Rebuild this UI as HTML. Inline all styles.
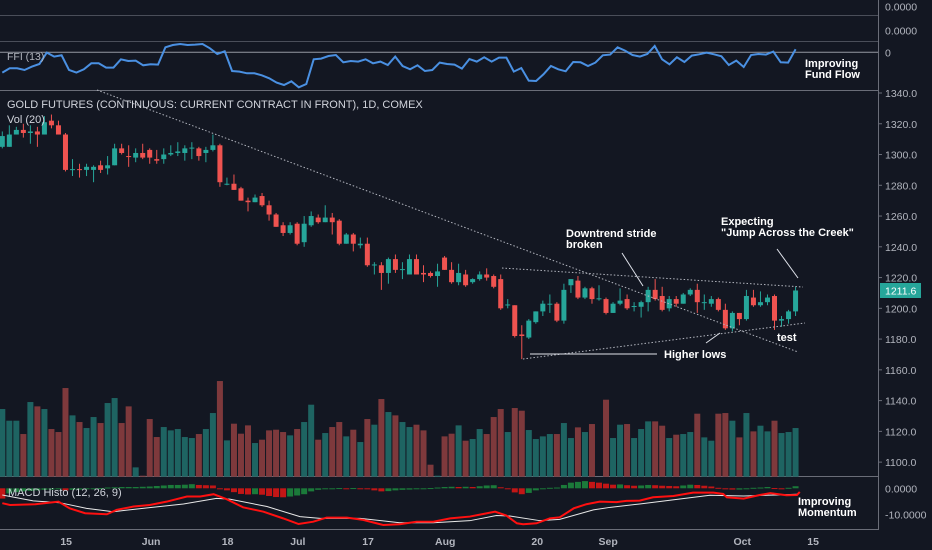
<!DOCTYPE html>
<html><head><meta charset="utf-8"><style>
html,body{margin:0;padding:0;background:#131722;width:932px;height:550px;overflow:hidden}
svg{display:block;font-family:"Liberation Sans",sans-serif}
</style></head><body>
<svg id="c" width="932" height="550" viewBox="0 0 932 550"></svg>
<script>
// ---- data ----
const opens  =[1305,1305,1313,1316,1314,1315,1313,1322,1319,1313,1290,1290.5,1290,1290,1293,1291,1293,1304,1299,1298,1301,1303,1297,1297,1300,1301,1301,1304,1304,1301,1303,1306,1281,1281,1278,1270,1269,1273,1267,1261,1254,1249,1255,1243,1254,1259,1256,1259,1257,1242,1248,1241,1242,1228,1228,1223,1232,1225,1222,1232,1223,1223,1221,1233,1225,1217,1222,1217,1219,1222,1221,1219,1202,1202,1183,1181,1191,1198,1203,1203,1192,1215,1218,1207,1213,1206,1206,1197,1203,1206,1201,1201,1204,1212,1208,1200,1206,1203,1209,1212,1204,1203,1206,1199,1187,1197,1193,1207,1202,1204,1208,1192,1193,1198];
const closes =[1312,1313,1316,1314,1315,1313,1321,1319,1313,1290,1290.5,1290,1292,1292,1290,1293,1304,1301,1298.7,1301,1298,1298,1296,1300,1301,1302,1304,1304.5,1299,1303,1306,1282,1281,1277,1270,1269,1272,1267,1261,1253,1249,1254,1242,1255,1260,1256,1259,1256,1242,1248,1242,1242,1228,1228.5,1223,1232,1225,1225.5,1232,1222,1222,1221,1224,1225,1217,1223,1215,1219,1222,1220,1214,1200,1202.5,1182,1182,1192,1198,1203,1203,1192,1212,1219,1207,1213,1206,1206.5,1197,1203,1205,1200,1201.5,1204,1212,1206,1199,1206,1203,1209,1212,1204,1204,1206,1199,1187,1197,1193,1208,1202,1204,1207,1192,1193,1198,1211.6];
const highs  =[1315,1319,1318,1320,1319,1318,1325,1326,1322,1314,1297,1294,1294,1293,1296,1299,1307,1307,1306,1304,1307,1304,1303,1304,1306,1308,1306,1308,1305,1305,1313,1307,1285,1287,1279,1272,1274,1275,1270,1262,1256,1256,1256,1260,1263,1261,1267,1262,1258,1249,1249,1246,1246,1230,1230,1233,1235,1230,1235,1235,1228,1224,1229,1234,1230,1229,1225,1219.5,1224,1226,1222,1222,1206,1202,1189,1193,1198,1205,1209,1204,1216,1219,1221,1214,1214,1215,1207,1204,1213,1209,1204,1205,1214,1219,1214,1208,1208,1210,1213,1216,1209,1208,1207,1203,1198,1197,1212,1212,1211,1209,1209,1195,1199,1214];
const lows   =[1304,1305,1313,1311,1307,1305,1313,1317,1313,1289,1286,1285,1286,1282,1288,1287,1293,1300,1292,1295,1297,1294,1294,1294,1299,1299,1296,1297,1296,1295,1302,1279,1280,1277,1270,1263,1269,1266,1257,1253,1247,1248,1241,1240,1253,1255,1256,1248,1241,1242,1237,1239,1227,1222,1212,1216,1223,1219,1222,1222,1217,1220,1214,1225,1216,1215,1214,1216,1218,1218,1213,1199,1200,1181,1167,1180,1190,1195,1197,1191,1190,1210,1206,1206,1203,1205,1196,1197,1202,1199,1198,1194,1198,1205,1198,1198,1201,1203,1208,1197,1199,1201,1198,1186,1185,1189,1192,1201,1201,1202,1186,1188,1190,1195];
const volumes=[203,168,168,128,224,211,203,143,134,266,184,164,146,179,161,221,236,161,211,28,3,173,119,149,139,143,119,116,128,143,191,287,109,159,129,154,101,111,139,141,134,124,143,164,216,111,131,149,164,121,141,104,173,156,233,194,184,164,149,156,139,36,3,121,129,154,108,113,143,128,179,203,134,206,198,140,113,121,128,128,161,116,148,134,158,0,231,116,156,158,116,143,166,166,153,116,126,128,134,189,118,108,189,191,168,118,191,136,153,136,168,131,134,146];
const histo  =[-4,-2,-1.5,-1.2,-1,-0.8,-0.6,-0.5,-0.4,-0.8,-0.6,-0.5,-0.3,-0.1,0.1,0.3,0.4,0.5,0.5,0.5,0.6,0.7,0.9,1.1,1.3,1.3,1.4,1.6,1.3,1.2,1.1,-0.4,-0.8,-1.5,-2.2,-2.4,-2.3,-2.5,-3,-3.4,-3.5,-3.2,-2.8,-2.3,-1.2,-0.6,-0.2,0,0.1,0,0.1,0,-0.4,-0.8,-1.2,-1.1,-0.8,-0.6,-0.5,-0.1,0,0.1,0.3,0.5,0.6,0.5,0.6,0.5,0.8,1.1,1.2,0.4,-0.2,-1.6,-2.3,-1.8,-0.8,0,0.2,0.3,1.3,2.2,2.5,2.8,2.5,2.2,1.8,1.4,1.5,1.2,1,1.1,1.3,1.2,1,0.9,0.8,1.1,1.4,1.3,1,0.7,0.2,-0.4,-0.5,-0.5,-0.1,0.2,0.3,0.5,0.1,-0.2,0.2,0.8];
const macdDays=[0,1.1,4.7,8,9.6,11.8,14.9,16.3,18.7,21,23.4,26.3,28.2,30.1,32,34.3,37.2,40,42.2,44.3,46.2,49.1,51.4,54.3,56.6,59,61.4,63.8,66.6,68.5,70.2,71.8,73.3,74.2,76.1,78,79.4,81.4,83.2,85.1,87.5,88.9,90.8,92.7,95.6,98.4,101.3,102.7,103.2,105.6,107.9,109.4,111.7,113.2,113.6];
const macdVals=[-5.8,-6.5,-6.2,-5.2,-7.8,-9.7,-10.1,-8.4,-7.1,-6.5,-5.2,-3.2,-3.2,-2.3,-4.3,-7.4,-9.1,-11.7,-13.9,-13,-11.4,-11.4,-12.3,-14.3,-14,-13,-13,-11.7,-11,-10,-9.1,-10.6,-13.6,-14,-13.6,-11.7,-11.3,-7.8,-6.2,-5.2,-5.4,-4.9,-4.8,-3.5,-3,-1.7,-1.7,-2.2,-3.5,-4,-2.6,-1.9,-2.7,-2.6,-1.4];
const sigDays=[0,4.4,8.2,12,15.8,21,25.8,30.5,32.4,37.7,42.4,45.3,51,56.6,61.4,66.6,70.4,72.3,76.6,79.4,84.2,86.6,90.8,96.1,100.8,105.6,110.3,113.2];
const sigVals=[-2.6,-4.9,-5.6,-7.8,-9.1,-7.5,-6.1,-3.9,-4.2,-7.1,-11,-11.7,-11.7,-13.4,-13.4,-12.6,-10.6,-10.8,-12.6,-12.1,-8.4,-7.4,-6.1,-4.3,-2.7,-3,-2.6,-2.3];
const ffiVals=[-61,-48,-48,-53,-43,-35,-1,-13,-9,-53,-61,-51,-33,-33,-46,-46,-21,-26,-25,-39,-36,-37,15,22,25,22,23,25,12,-5,3,-56,-58,-63,-63,-69,-78,-91,-98,-87,-105,-95,-21,-19,-11,-8,-30,-26,-28,-21,-33,-28,-38,-13,-41,-51,-39,-56,-53,-31,-35,-37,-49,-20,-28,-15,-28,-16,-16,-58,-47,-85,-86,-66,-41,-51,-57,-29,-30,-41,-31,-9,-7,15,5,-8,-13,-5,19,-21,-36,-15,-29,-10,-6,-1,-6,-12,-38,-25,-44,-8,-5,-7,2,-30,-31,9];
const priceTicks=[1340,1320,1300,1280,1260,1240,1220,1200,1180,1160,1140,1120,1100];
const dateLabels=["15","Jun","18","Jul","17","Aug","20","Sep","Oct","15"];
const dateDays=[9.1,21.2,32.1,42.1,52.1,63.1,76.2,86.3,105.4,115.5];

// ---- axes ----
const xDay=d=>2.3+d*7.02;
const yP=p=>93+(1340-p)*1.538;
const yVol=v=>476.7-v/3;
const yMacd=v=>488.3-v*2.57;
const yFfi=v=>52.3-v/3;

const S=document.getElementById('c');const NS='http://www.w3.org/2000/svg';
function mk(t,a,p){const e=document.createElementNS(NS,t);for(const k in a)e.setAttribute(k,a[k]);(p||S).appendChild(e);return e;}
function txt(x,y,s,a){const e=mk('text',Object.assign({x:x,y:y,fill:'#d1d4dc','font-size':11},a||{}));e.textContent=s;return e;}

// separators
[[15,'#4a4e59'],[41,'#4a4e59'],[90,'#6a6d78'],[476,'#6a6d78'],[529,'#6a6d78']].forEach(([y,c])=>{
 const l=mk('line',{x1:0,x2:878,y1:y+0.5,y2:y+0.5,stroke:c,'stroke-width':1});
 });
const zl=mk('line',{x1:0,x2:878,y1:52.3,y2:52.3,stroke:'#9598a1','stroke-width':1});

const ax=mk('line',{x1:878.5,x2:878.5,y1:0,y2:530,stroke:'#6a6d78'});


// volume
const gV=mk('g',{});
volumes.forEach((v,i)=>{if(!v)return;const up=closes[i]>=opens[i];
 const r=mk('rect',{x:xDay(i)-3,y:yVol(v),width:6,height:476.7-yVol(v),fill:up?'#1e6462':'#7e393c'},gV);
 });

// candles
const gC=mk('g',{});
opens.forEach((o,i)=>{const c=closes[i],up=c>=o,col=up?'#26a69a':'#ef5350',x=xDay(i);
 const w=mk('line',{x1:x,x2:x,y1:yP(highs[i]),y2:yP(lows[i]),stroke:col,'stroke-width':1},gC);
 
 const t=Math.min(yP(o),yP(c)),h=Math.max(1,Math.abs(yP(o)-yP(c)));
 const b=mk('rect',{x:x-2.5,y:t,width:5,height:h,fill:col},gC);
 });

// trend lines
[[97,90,798,352],[502,268,803,287],[523,359,805,323]].forEach(a=>{
 const l=mk('line',{x1:a[0],y1:a[1],x2:a[2],y2:a[3],stroke:'#b2b5be','stroke-width':1,'stroke-dasharray':'1.5,2'});
 });
[[530,354,657,354],[706,343,720,333],[622,253,643,286],[777,249,798,278]].forEach(a=>{
 const l=mk('line',{x1:a[0],y1:a[1],x2:a[2],y2:a[3],stroke:'#e0e3eb','stroke-width':1});
 });
const an=[["Downtrend stride",566,237],["broken",566,248],["Expecting",721,225],['"Jump Across the Creek"',721,236],["Higher lows",664,358],["test",777,341]];
an.forEach(a=>{const t=txt(a[1],a[2],a[0],{fill:'#ffffff','font-weight':'bold','font-size':11});
 });

// FFI line
const fp=ffiVals.map((v,i)=>xDay(i*113/(ffiVals.length-1)).toFixed(1)+','+yFfi(v).toFixed(1)).join(' ');
const fl=mk('polyline',{points:fp,fill:'none',stroke:'#4a90e2','stroke-width':2});


// MACD histogram
const gH=mk('g',{});
histo.forEach((v,i)=>{const rising=i==0?false:v>=histo[i-1];const y0=yMacd(0),y1=yMacd(v);
 const r=mk('rect',{x:xDay(i)-3,y:Math.min(y0,y1),width:6,height:Math.max(1,Math.abs(y1-y0)),fill:rising?'#1b7a3a':'#c31616'},gH);
 });
const sl=mk('polyline',{points:sigDays.map((d,i)=>xDay(d)+','+yMacd(sigVals[i])).join(' '),fill:'none',stroke:'#e8e8e8','stroke-width':1});

const ml=mk('polyline',{points:macdDays.map((d,i)=>xDay(d)+','+yMacd(macdVals[i])).join(' '),fill:'none',stroke:'#ff1010','stroke-width':2});


// price axis labels
priceTicks.forEach(p=>{const y=yP(p);
 const tk=mk('line',{x1:878,x2:882,y1:y,y2:y,stroke:'#6a6d78'});
 const t=txt(885,y+4,p.toFixed(1),{fill:'#b2b5be','font-size':10.5});});
const pb=mk('rect',{x:880,y:283,width:41,height:15,fill:'#26a69a'});
const pt=txt(885,294.5,closes[closes.length-1].toFixed(1),{fill:'#ffffff','font-size':10.5});
[["0.0000",10],["0.0000",34],["0",56],["0.0000",492],["-10.0000",518]].forEach(a=>{const t=txt(885,a[1]+0.5,a[0],{fill:'#b2b5be','font-size':10.5});
 });
[["0.0000",52],["-10.0000",514]].forEach(a=>{});

// date axis
dateLabels.forEach((s,i)=>{const x=xDay(dateDays[i]);
 const t=txt(x,545,s,{fill:'#b2b5be','font-size':10.5,'font-weight':'bold','text-anchor':'middle'});
 });

// titles
let t;
t=txt(7,108,'GOLD FUTURES (CONTINUOUS: CURRENT CONTRACT IN FRONT), 1D, COMEX',{'font-size':11});
t=txt(7,123,'Vol (20)',{'font-size':11});
t=txt(7,60,'FFI (13)',{'font-size':10.5,fill:'#b2b5be'});
t=txt(8,496,'MACD Histo (12, 26, 9)',{'font-size':11});
t=txt(805,67,'Improving',{'font-size':11,'font-weight':'bold',fill:'#fff'});
t=txt(805,78,'Fund Flow',{'font-size':11,'font-weight':'bold',fill:'#fff'});
t=txt(798,505,'Improving',{'font-size':11,'font-weight':'bold',fill:'#fff'});
t=txt(798,516,'Momentum',{'font-size':11,'font-weight':'bold',fill:'#fff'});
</script>
</body></html>
